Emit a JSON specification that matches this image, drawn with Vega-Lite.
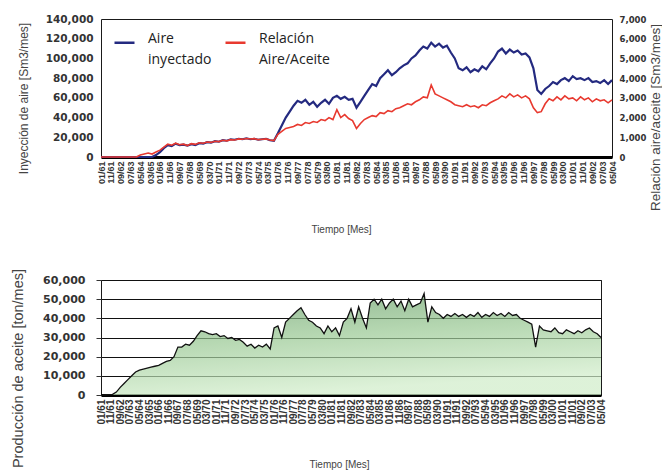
{
  "$schema": "https://vega.github.io/schema/vega-lite/v6.json",
  "padding": {"left": 10, "top": 13, "right": 0, "bottom": 0},
  "background": "white",
  "columns": 1,
  "align": "none",
  "spacing": 31,
  "config": {
    "view": {"stroke": "#1a1a1a", "strokeWidth": 1},
    "axis": {"labelFont": "DejaVu Sans", "titleFont": "Liberation Sans", "labelColor": "#333333", "titleColor": "#444444", "titleFontWeight": "normal", "grid": false},
    "style": {"guide-label": {"lineHeight": 21}}
  },
  "resolve": {"scale": {"x": "independent", "color": "independent"}, "legend": {"color": "independent"}},
  "datasets": {
    "serie": [
      {"d":"1961-01-01","a":0,"r":0,"p":0},
      {"d":"1961-05-01","a":0,"r":0,"p":0},
      {"d":"1961-09-01","a":0,"r":0,"p":200},
      {"d":"1962-01-01","a":0,"r":0,"p":300},
      {"d":"1962-05-01","a":0,"r":0,"p":1500},
      {"d":"1962-09-01","a":0,"r":0,"p":4000},
      {"d":"1963-01-01","a":0,"r":0,"p":6000},
      {"d":"1963-05-01","a":0,"r":0,"p":8000},
      {"d":"1963-09-01","a":0,"r":0,"p":10000},
      {"d":"1964-01-01","a":0,"r":0,"p":12000},
      {"d":"1964-05-01","a":0,"r":100,"p":13000},
      {"d":"1964-09-01","a":0,"r":150,"p":13500},
      {"d":"1965-01-01","a":0,"r":200,"p":14000},
      {"d":"1965-05-01","a":0,"r":150,"p":14500},
      {"d":"1965-09-01","a":2000,"r":250,"p":15000},
      {"d":"1966-01-01","a":5000,"r":350,"p":15500},
      {"d":"1966-05-01","a":9000,"r":500,"p":16500},
      {"d":"1966-09-01","a":12000,"r":650,"p":17500},
      {"d":"1967-01-01","a":11000,"r":600,"p":18000},
      {"d":"1967-05-01","a":13500,"r":700,"p":20000},
      {"d":"1967-09-01","a":12000,"r":620,"p":25000},
      {"d":"1968-01-01","a":12500,"r":650,"p":25000},
      {"d":"1968-05-01","a":11500,"r":580,"p":26500},
      {"d":"1968-09-01","a":13000,"r":680,"p":26000},
      {"d":"1969-01-01","a":12000,"r":640,"p":28000},
      {"d":"1969-05-01","a":14000,"r":720,"p":31000},
      {"d":"1969-09-01","a":13500,"r":700,"p":33500},
      {"d":"1970-01-01","a":15000,"r":760,"p":33000},
      {"d":"1970-05-01","a":14500,"r":740,"p":32000},
      {"d":"1970-09-01","a":16000,"r":800,"p":31500},
      {"d":"1971-01-01","a":15500,"r":780,"p":32000},
      {"d":"1971-05-01","a":17000,"r":850,"p":30500},
      {"d":"1971-09-01","a":16500,"r":820,"p":31000},
      {"d":"1972-01-01","a":18000,"r":880,"p":29500},
      {"d":"1972-05-01","a":17500,"r":860,"p":30000},
      {"d":"1972-09-01","a":18500,"r":920,"p":28500},
      {"d":"1973-01-01","a":18000,"r":900,"p":29000},
      {"d":"1973-05-01","a":19000,"r":940,"p":27500},
      {"d":"1973-09-01","a":18000,"r":910,"p":25500},
      {"d":"1974-01-01","a":18500,"r":930,"p":26500},
      {"d":"1974-05-01","a":17500,"r":880,"p":24500},
      {"d":"1974-09-01","a":18000,"r":900,"p":26000},
      {"d":"1975-01-01","a":18500,"r":920,"p":25000},
      {"d":"1975-05-01","a":17000,"r":860,"p":26500},
      {"d":"1975-09-01","a":16500,"r":830,"p":24000},
      {"d":"1976-01-01","a":24000,"r":1150,"p":35000},
      {"d":"1976-05-01","a":32000,"r":1300,"p":36000},
      {"d":"1976-09-01","a":40000,"r":1450,"p":30000},
      {"d":"1977-01-01","a":46000,"r":1500,"p":38000},
      {"d":"1977-05-01","a":52000,"r":1550,"p":40000},
      {"d":"1977-09-01","a":57000,"r":1650,"p":42000},
      {"d":"1978-01-01","a":55000,"r":1600,"p":44000},
      {"d":"1978-05-01","a":58000,"r":1750,"p":45500},
      {"d":"1978-09-01","a":53000,"r":1700,"p":42000},
      {"d":"1979-01-01","a":56000,"r":1800,"p":39000},
      {"d":"1979-05-01","a":51000,"r":1750,"p":38000},
      {"d":"1979-09-01","a":55000,"r":1900,"p":36000},
      {"d":"1980-01-01","a":58000,"r":1850,"p":35000},
      {"d":"1980-05-01","a":54000,"r":2000,"p":32000},
      {"d":"1980-09-01","a":60000,"r":1900,"p":36000},
      {"d":"1981-01-01","a":62000,"r":2400,"p":33000},
      {"d":"1981-05-01","a":59000,"r":2000,"p":35000},
      {"d":"1981-09-01","a":61000,"r":2150,"p":31000},
      {"d":"1982-01-01","a":58000,"r":1950,"p":38000},
      {"d":"1982-05-01","a":59000,"r":1850,"p":40000},
      {"d":"1982-09-01","a":50000,"r":1450,"p":45000},
      {"d":"1983-01-01","a":56000,"r":1700,"p":38000},
      {"d":"1983-05-01","a":62000,"r":1900,"p":46000},
      {"d":"1983-09-01","a":68000,"r":2000,"p":40000},
      {"d":"1984-01-01","a":74000,"r":2100,"p":35000},
      {"d":"1984-05-01","a":72000,"r":2050,"p":48000},
      {"d":"1984-09-01","a":80000,"r":2250,"p":50000},
      {"d":"1985-01-01","a":84000,"r":2200,"p":47000},
      {"d":"1985-05-01","a":88000,"r":2350,"p":50000},
      {"d":"1985-09-01","a":83000,"r":2300,"p":45000},
      {"d":"1986-01-01","a":86000,"r":2450,"p":48000},
      {"d":"1986-05-01","a":90000,"r":2500,"p":50000},
      {"d":"1986-09-01","a":93000,"r":2600,"p":46000},
      {"d":"1987-01-01","a":95000,"r":2700,"p":49000},
      {"d":"1987-05-01","a":100000,"r":2650,"p":44000},
      {"d":"1987-09-01","a":103000,"r":2800,"p":50000},
      {"d":"1988-01-01","a":108000,"r":2900,"p":46000},
      {"d":"1988-05-01","a":112000,"r":3050,"p":47000},
      {"d":"1988-09-01","a":110000,"r":3000,"p":48000},
      {"d":"1989-01-01","a":116000,"r":3650,"p":53000},
      {"d":"1989-05-01","a":112000,"r":3200,"p":38000},
      {"d":"1989-09-01","a":115000,"r":3100,"p":46000},
      {"d":"1990-01-01","a":111000,"r":3000,"p":43000},
      {"d":"1990-05-01","a":113000,"r":2900,"p":42000},
      {"d":"1990-09-01","a":106000,"r":2800,"p":40000},
      {"d":"1991-01-01","a":100000,"r":2650,"p":42000},
      {"d":"1991-05-01","a":90000,"r":2600,"p":41000},
      {"d":"1991-09-01","a":88000,"r":2550,"p":42500},
      {"d":"1992-01-01","a":91000,"r":2650,"p":41000},
      {"d":"1992-05-01","a":86000,"r":2550,"p":42000},
      {"d":"1992-09-01","a":89000,"r":2600,"p":40500},
      {"d":"1993-01-01","a":87000,"r":2500,"p":42000},
      {"d":"1993-05-01","a":92000,"r":2650,"p":41000},
      {"d":"1993-09-01","a":89000,"r":2600,"p":43000},
      {"d":"1994-01-01","a":95000,"r":2750,"p":40500},
      {"d":"1994-05-01","a":100000,"r":2850,"p":42000},
      {"d":"1994-09-01","a":107000,"r":2950,"p":41000},
      {"d":"1995-01-01","a":110000,"r":3100,"p":43000},
      {"d":"1995-05-01","a":105000,"r":3000,"p":41500},
      {"d":"1995-09-01","a":109000,"r":3200,"p":42500},
      {"d":"1996-01-01","a":106000,"r":3050,"p":41000},
      {"d":"1996-05-01","a":108000,"r":3150,"p":43000},
      {"d":"1996-09-01","a":104000,"r":3000,"p":41500},
      {"d":"1997-01-01","a":105000,"r":3100,"p":42000},
      {"d":"1997-05-01","a":101000,"r":2950,"p":40000},
      {"d":"1997-09-01","a":90000,"r":2500,"p":39000},
      {"d":"1998-01-01","a":68000,"r":2250,"p":38000},
      {"d":"1998-05-01","a":64000,"r":2300,"p":37000},
      {"d":"1998-09-01","a":69000,"r":2700,"p":25000},
      {"d":"1999-01-01","a":72000,"r":2950,"p":36000},
      {"d":"1999-05-01","a":76000,"r":2850,"p":34000},
      {"d":"1999-09-01","a":74000,"r":3050,"p":33500},
      {"d":"2000-01-01","a":78000,"r":2900,"p":33000},
      {"d":"2000-05-01","a":80000,"r":3100,"p":35000},
      {"d":"2000-09-01","a":77000,"r":2950,"p":32500},
      {"d":"2001-01-01","a":82000,"r":3000,"p":32000},
      {"d":"2001-05-01","a":79000,"r":2850,"p":34000},
      {"d":"2001-09-01","a":80000,"r":3050,"p":33000},
      {"d":"2002-01-01","a":78000,"r":2900,"p":32000},
      {"d":"2002-05-01","a":80000,"r":3000,"p":33500},
      {"d":"2002-09-01","a":76000,"r":2800,"p":32500},
      {"d":"2003-01-01","a":77000,"r":2950,"p":34000},
      {"d":"2003-05-01","a":75000,"r":2850,"p":35000},
      {"d":"2003-09-01","a":78000,"r":2900,"p":33000},
      {"d":"2004-01-01","a":74000,"r":2750,"p":32000},
      {"d":"2004-05-01","a":78000,"r":2900,"p":30000}
    ]
  },
  "concat": [
    {
      "width": 511,
      "height": 138,
      "data": {"name": "serie"},
      "encoding": {
        "x": {
          "field": "d", "type": "temporal",
          "scale": {"type": "utc", "nice": false},
          "axis": {
            "values": [
              {"year":1961,"month":1,"utc":true},{"year":1961,"month":11,"utc":true},{"year":1962,"month":9,"utc":true},{"year":1963,"month":7,"utc":true},{"year":1964,"month":5,"utc":true},{"year":1965,"month":3,"utc":true},{"year":1966,"month":1,"utc":true},{"year":1966,"month":11,"utc":true},{"year":1967,"month":9,"utc":true},{"year":1968,"month":7,"utc":true},{"year":1969,"month":5,"utc":true},{"year":1970,"month":3,"utc":true},{"year":1971,"month":1,"utc":true},{"year":1971,"month":11,"utc":true},{"year":1972,"month":9,"utc":true},{"year":1973,"month":7,"utc":true},{"year":1974,"month":5,"utc":true},{"year":1975,"month":3,"utc":true},{"year":1976,"month":1,"utc":true},{"year":1976,"month":11,"utc":true},{"year":1977,"month":9,"utc":true},{"year":1978,"month":7,"utc":true},{"year":1979,"month":5,"utc":true},{"year":1980,"month":3,"utc":true},{"year":1981,"month":1,"utc":true},{"year":1981,"month":11,"utc":true},{"year":1982,"month":9,"utc":true},{"year":1983,"month":7,"utc":true},{"year":1984,"month":5,"utc":true},{"year":1985,"month":3,"utc":true},{"year":1986,"month":1,"utc":true},{"year":1986,"month":11,"utc":true},{"year":1987,"month":9,"utc":true},{"year":1988,"month":7,"utc":true},{"year":1989,"month":5,"utc":true},{"year":1990,"month":3,"utc":true},{"year":1991,"month":1,"utc":true},{"year":1991,"month":11,"utc":true},{"year":1992,"month":9,"utc":true},{"year":1993,"month":7,"utc":true},{"year":1994,"month":5,"utc":true},{"year":1995,"month":3,"utc":true},{"year":1996,"month":1,"utc":true},{"year":1996,"month":11,"utc":true},{"year":1997,"month":9,"utc":true},{"year":1998,"month":7,"utc":true},{"year":1999,"month":5,"utc":true},{"year":2000,"month":3,"utc":true},{"year":2001,"month":1,"utc":true},{"year":2001,"month":11,"utc":true},{"year":2002,"month":9,"utc":true},{"year":2003,"month":7,"utc":true},{"year":2004,"month":5,"utc":true}
            ],
            "labelExpr": "utcFormat(datum.value, '%m/%y')",
            "labelAngle": -90,
            "labelFont": "Liberation Sans",
            "labelFontSize": 9,
            "labelFontWeight": "bold",
            "labelOverlap": false,
            "labelFlush": false,
            "labelPadding": 4,
            "ticks": false,
            "domainColor": "#000000",
            "domainWidth": 3,
            "title": "Tiempo [Mes]",
            "titleFontSize": 10,
            "titlePadding": 41,
            "titleX": 240
          }
        }
      },
      "layer": [
        {
          "mark": {"type": "line", "strokeWidth": 2.2},
          "encoding": {
            "y": {
              "field": "a", "type": "quantitative",
              "scale": {"domain": [0, 140000], "nice": false},
              "axis": {
                "orient": "left",
                "values": [0, 20000, 40000, 60000, 80000, 100000, 120000, 140000],
                "format": ",.0f",
                "ticks": false,
                "domain": false,
                "labelFontSize": 10.5,
                "labelFontWeight": "bold",
                "labelPadding": 8,
                "title": "Inyección de  aire [Sm3/mes]",
                "titleFontSize": 12,
                "titlePadding": 15,
                "titleY": 79
              }
            },
            "color": {
              "datum": "Aire inyectado",
              "type": "nominal",
              "scale": {"domain": ["Aire inyectado", "Relación Aire/Aceite"], "range": ["#242a80", "#e8392f"]},
              "legend": {
                "title": null,
                "orient": "top-left",
                "offset": 12,
                "direction": "horizontal",
                "symbolType": "stroke",
                "symbolSize": 400,
                "symbolStrokeWidth": 2.5,
                "labelFont": "Open Sans",
                "labelFontSize": 14,
                "labelColor": "#222222",
                "labelBaseline": "alphabetic",
                "labelOffset": 12,
                "columnPadding": 8,
                "padding": 0,
                "labelExpr": "datum.label == 'Aire inyectado' ? ['Aire', 'inyectado'] : ['Relación', 'Aire/Aceite']"
              }
            }
          }
        },
        {
          "mark": {"type": "line", "strokeWidth": 1.6},
          "encoding": {
            "y": {
              "field": "r", "type": "quantitative",
              "scale": {"domain": [0, 7000], "nice": false},
              "axis": {
                "orient": "right",
                "values": [0, 1000, 2000, 3000, 4000, 5000, 6000, 7000],
                "format": ",.0f",
                "ticks": false,
                "domain": false,
                "labelFontSize": 8.5,
                "labelFontWeight": "bold",
                "labelPadding": 7,
                "title": "Relación aire/aceite [Sm3/mes]",
                "titleFontSize": 13.5,
                "titleAngle": -90,
                "titleBaseline": "middle",
                "titleAlign": "center",
                "titleX": 43,
                "titleY": 98
              }
            },
            "color": {"datum": "Relación Aire/Aceite", "type": "nominal"}
          }
        }
      ],
      "resolve": {"scale": {"y": "independent"}}
    },
    {
      "width": 500,
      "height": 115,
      "data": {"name": "serie"},
      "mark": {
        "type": "area",
        "color": {
          "gradient": "linear",
          "x1": 0, "y1": 0, "x2": 0.3, "y2": 1,
          "stops": [
            {"offset": 0, "color": "#5e9660"},
            {"offset": 0.5, "color": "#97c791"},
            {"offset": 1, "color": "#cfecc8"}
          ]
        },
        "line": {"color": "#111111", "strokeWidth": 1.3}
      },
      "encoding": {
        "x": {
          "field": "d", "type": "temporal",
          "scale": {"type": "utc", "nice": false},
          "axis": {
            "values": [
              {"year":1961,"month":1,"utc":true},{"year":1961,"month":11,"utc":true},{"year":1962,"month":9,"utc":true},{"year":1963,"month":7,"utc":true},{"year":1964,"month":5,"utc":true},{"year":1965,"month":3,"utc":true},{"year":1966,"month":1,"utc":true},{"year":1966,"month":11,"utc":true},{"year":1967,"month":9,"utc":true},{"year":1968,"month":7,"utc":true},{"year":1969,"month":5,"utc":true},{"year":1970,"month":3,"utc":true},{"year":1971,"month":1,"utc":true},{"year":1971,"month":11,"utc":true},{"year":1972,"month":9,"utc":true},{"year":1973,"month":7,"utc":true},{"year":1974,"month":5,"utc":true},{"year":1975,"month":3,"utc":true},{"year":1976,"month":1,"utc":true},{"year":1976,"month":11,"utc":true},{"year":1977,"month":9,"utc":true},{"year":1978,"month":7,"utc":true},{"year":1979,"month":5,"utc":true},{"year":1980,"month":3,"utc":true},{"year":1981,"month":1,"utc":true},{"year":1981,"month":11,"utc":true},{"year":1982,"month":9,"utc":true},{"year":1983,"month":7,"utc":true},{"year":1984,"month":5,"utc":true},{"year":1985,"month":3,"utc":true},{"year":1986,"month":1,"utc":true},{"year":1986,"month":11,"utc":true},{"year":1987,"month":9,"utc":true},{"year":1988,"month":7,"utc":true},{"year":1989,"month":5,"utc":true},{"year":1990,"month":3,"utc":true},{"year":1991,"month":1,"utc":true},{"year":1991,"month":11,"utc":true},{"year":1992,"month":9,"utc":true},{"year":1993,"month":7,"utc":true},{"year":1994,"month":5,"utc":true},{"year":1995,"month":3,"utc":true},{"year":1996,"month":1,"utc":true},{"year":1996,"month":11,"utc":true},{"year":1997,"month":9,"utc":true},{"year":1998,"month":7,"utc":true},{"year":1999,"month":5,"utc":true},{"year":2000,"month":3,"utc":true},{"year":2001,"month":1,"utc":true},{"year":2001,"month":11,"utc":true},{"year":2002,"month":9,"utc":true},{"year":2003,"month":7,"utc":true},{"year":2004,"month":5,"utc":true}
            ],
            "labelExpr": "utcFormat(datum.value, '%m/%y')",
            "labelAngle": -90,
            "labelFont": "Liberation Sans",
            "labelFontSize": 10,
            "labelFontWeight": "bold",
            "labelOverlap": false,
            "labelFlush": false,
            "labelPadding": 4,
            "ticks": false,
            "domainColor": "#000000",
            "domainWidth": 3,
            "title": "Tiempo [Mes]",
            "titleFontSize": 10,
            "titlePadding": 35,
            "titleX": 238
          }
        },
        "y": {
          "field": "p", "type": "quantitative",
          "scale": {"domain": [0, 60000], "nice": false},
          "axis": {
            "values": [0, 10000, 20000, 30000, 40000, 50000, 60000],
            "format": ",.0f",
            "grid": true,
            "gridColor": "#111111",
            "gridWidth": 1,
            "ticks": true,
            "tickSize": 5,
            "tickColor": "#333333",
            "domain": false,
            "labelFontSize": 11,
            "labelFontWeight": "bold",
            "labelPadding": 11,
            "title": "Producción de aceite [ton/mes]",
            "titleFontSize": 14.5,
            "titlePadding": 17,
            "titleY": 88
          }
        }
      }
    }
  ]
}
